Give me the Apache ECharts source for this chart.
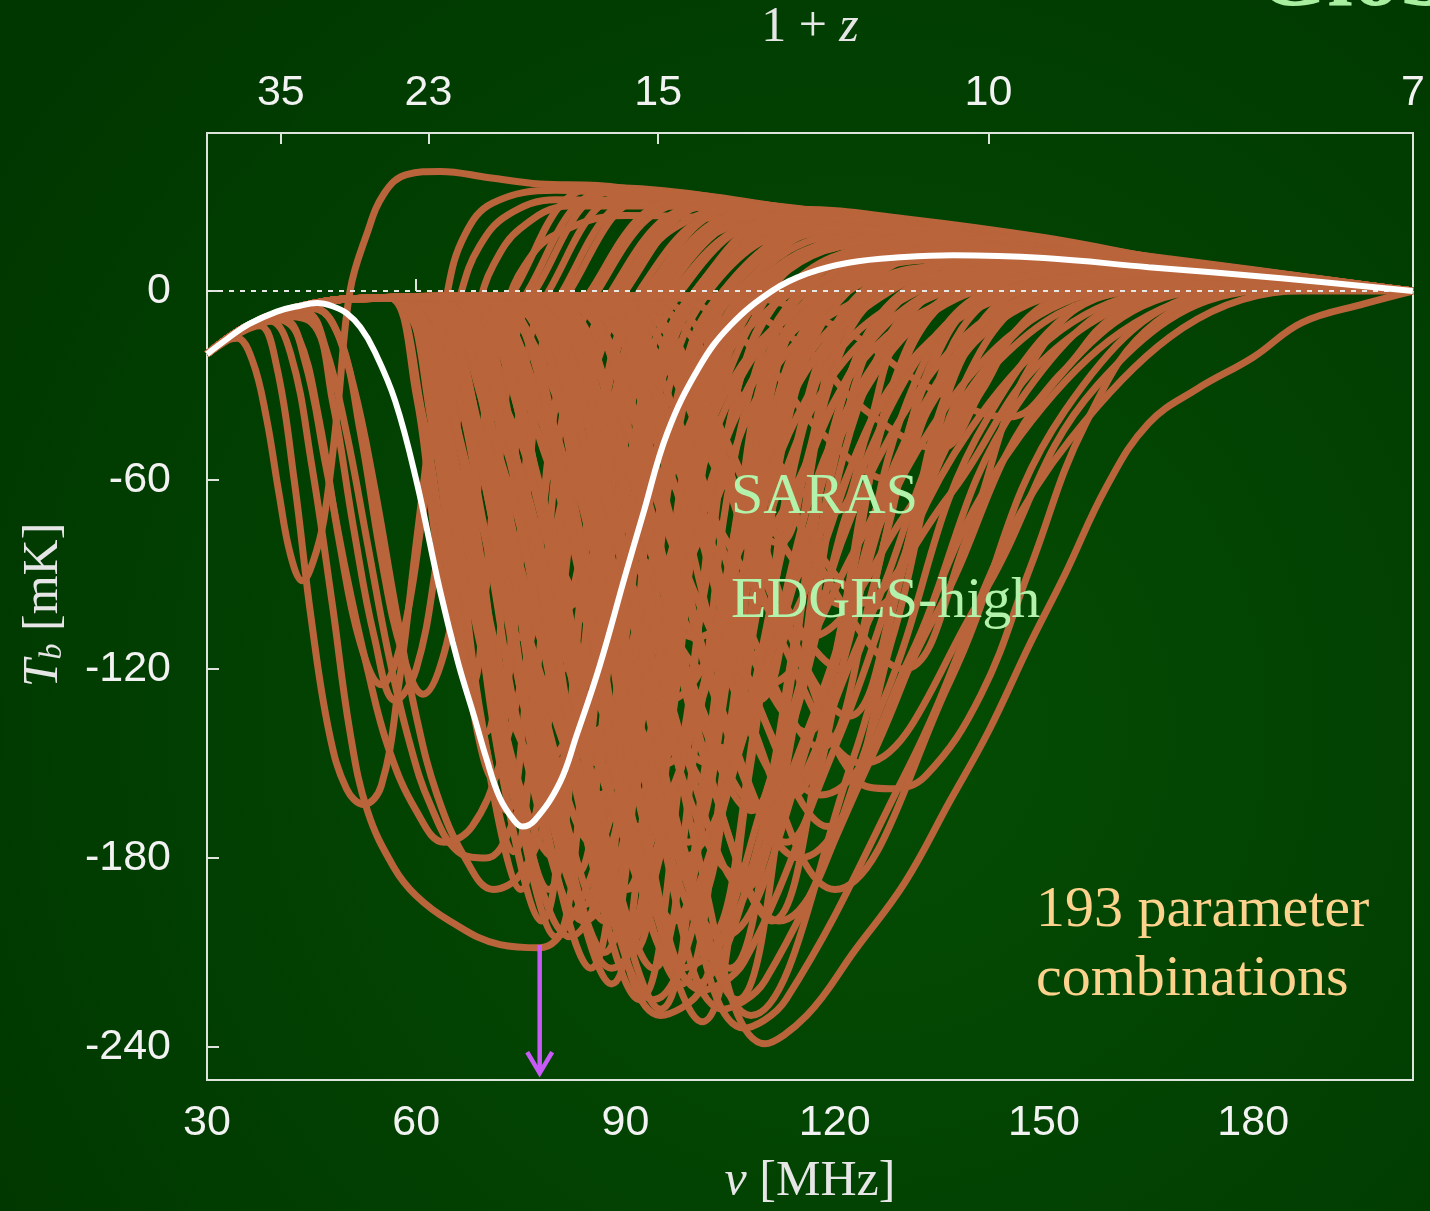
<!DOCTYPE html>
<html><head><meta charset="utf-8">
<script src="https://cdn.jsdelivr.net/npm/echarts@6/dist/echarts.min.js"></script>
<style>html,body{margin:0;padding:0;background:#003c00;}#c{width:1430px;height:1211px;}</style>
</head><body><div id="c"></div>
<script>
// ---- axis ranges and tick labels ----
const nuMin = 30, nuMax = 1420.4 / 7;
const tbMin = -250.5, tbMax = 50.2;
const nuTicks = [30, 60, 90, 120, 150, 180];
const tbTicks = [-240, -180, -120, -60, 0];
const zTicks = [35, 23, 15, 10, 7];

// ---- highlighted (white) model ----
const whiteNu = [30, 33, 36, 40, 43, 45.8, 48, 50, 52, 54, 57, 60, 63.4, 66, 68.3, 70, 72, 74, 75.2, 77, 80.6, 83, 86.3, 90, 92.5, 96, 100.6, 105, 111, 116, 122, 130, 137, 150, 165, 184, 202.9];
const whiteT  = [-20, -15, -10.5, -6.5, -4.8, -3.8, -4.8, -7, -11.5, -19, -35, -60, -95, -118, -135, -148, -161, -168, -170, -168, -156, -141, -119, -90, -71, -45, -24, -11, 0, 5.5, 9, 10.8, 11.4, 10.5, 7.6, 4.1, 0];

// ---- early-coupling models (full curves) ----
const earlyCurves = [
 [[30,-20],[32,-16.5],[34.3,-15],[36.5,-22],[38.5,-40],[40.3,-64],[42,-84],[43.7,-92],[45.2,-86],[46.8,-72],[48.7,-38],[50.5,0],[52.9,18],[55.4,31],[58.6,37],[63.4,38],[70.5,36],[77.7,34],[86,33.5],[100,29],[115,25],[130,20.5],[143.6,18.5],[165,11],[184,4.4],[202.9,0]],
 [[30,-20],[35,-13],[37.6,-11],[40,-24],[42.5,-60],[45,-105],[47.5,-140],[50,-158],[52.5,-163],[55,-157],[57.5,-125],[60,-80],[62.5,-35],[64.5,0],[67,18],[71,28],[80,32],[90,30.5],[110,25],[130,19.5],[150,14.5],[170,8],[190,2.5],[202.9,0]],
 [[30,-20],[35,-12.5],[39,-9.5],[42,-20],[45,-55],[48,-100],[50.5,-140],[53,-165],[56.8,-183],[60,-192],[64.8,-200],[72,-207.5],[77.7,-208.5],[82,-200],[86,-180],[90,-150],[95,-105],[100,-60],[105,-25],[110,-3],[115,10],[122,17],[130,18.5],[145,16.5],[165,10],[185,4],[202.9,0]],
 [[30,-20],[35,-12.5],[41,-9],[44,-22],[47,-55],[50,-90],[53,-120],[56,-145],[60,-165],[64,-175],[68,-170],[72,-150],[76,-115],[80,-75],[84,-38],[88,-10],[92,8],[97,20],[105,26],[115,26],[130,23],[150,17],[170,9],[190,3],[202.9,0]],
 [[30,-20],[35,-12],[40,-8],[44.3,-7],[47,-18],[50,-45],[53,-80],[56,-115],[59,-143],[62,-163],[66,-178],[70,-180],[74,-168],[78,-140],[82,-100],[86,-60],[90,-25],[95,2],[100,15],[110,22],[125,22],[145,17],[165,10],[185,4],[202.9,0]],
 [[30,-20],[35,-12],[40,-7.5],[45,-5.5],[48,-10],[51,-30],[54,-62],[57,-100],[60,-135],[63,-160],[67,-180],[71,-190],[75,-185],[79,-165],[83,-130],[87,-90],[91,-52],[95,-22],[100,0],[106,12],[115,18],[130,19],[150,15],[170,8],[190,3],[202.9,0]],
 [[30,-20],[35,-12.5],[40,-9],[43,-14],[46,-40],[49,-80],[52,-112],[55,-125],[58,-110],[61,-70],[64,-25],[66.5,0],[69,14],[73,24],[80,29],[95,28],[115,24],[135,19],[160,11],[185,4],[202.9,0]],
 [[30,-20],[35,-12],[40,-8],[45,-10],[48,-35],[51,-75],[54,-110],[57,-130],[60,-120],[63,-85],[66,-40],[69,-5],[71,8],[75,20],[82,27],[95,27],[115,23],[135,18],[160,10.5],[185,4],[202.9,0]],
 [[30,-20],[35,-12],[40,-7.5],[45,-5],[49,-15],[52,-45],[55,-85],[58,-115],[61,-128],[64,-115],[67,-80],[70,-38],[73,-5],[75.5,8],[80,18],[90,24],[110,22],[135,17],[160,10],[185,3.8],[202.9,0]]
];

// ---- shared dark-ages plateau for the later models ----
const plateau = [[30,-20],[35,-12],[40,-7],[45,-4],[50,-2.5]];

// ---- later-coupling models, narrow troughs (from onset onward) ----
const midCurves = [
 [[56,-2],[60,-33],[63,-82],[66,-110],[68.4,-72],[70.8,-22],[74,0],[86,33],[127,21],[168,10]],
 [[57,-2],[61.8,-30],[65.4,-75],[69,-100],[71.4,-65],[73.8,-20],[77,0],[89,32],[129,21],[169,10]],
 [[57,-2],[62.2,-42],[66.1,-105],[70,-140],[72.7,-91],[75.4,-28],[79,0],[91,31],[130,20],[169,9]],
 [[58,-2],[63.6,-39],[67.8,-98],[72,-130],[75,-85],[78,-26],[82,0],[94,30],[132,19.5],[170,9]],
 [[57,-2],[63.4,-50],[68.2,-124],[73,-165],[76.6,-107],[80.2,-33],[85,0],[98,29],[134.8,19],[171.5,9]],
 [[57,-2],[64.2,-57],[69.6,-142],[75,-190],[78.9,-124],[82.8,-38],[88,0],[101,27],[136.7,17.6],[172.4,8]],
 [[58,-2],[65.6,-45],[71.3,-112],[77,-150],[80.9,-98],[84.8,-30],[90,0],[103,28],[138,18],[173,8.4]],
 [[58,-2],[66,-60],[72,-150],[78,-200],[82.2,-130],[86.4,-40],[92,0],[106,26],[140,17],[174,7.8]],
 [[59,-2],[67.4,-62],[73.7,-154],[80,-205],[84.8,-133],[89.6,-41],[96,0],[110,24],[142.6,15.6],[175,7.2]],
 [[62,-2],[69.6,-36],[75.3,-90],[81,-120],[84.6,-78],[88.2,-24],[93,0],[106,26],[140,17],[174,7.8]],
 [[60,-2],[68.8,-52],[75.4,-131],[82,-175],[86.5,-114],[91,-35],[97,0],[111,22],[143,14.3],[175.4,6.6]],
 [[60,-2],[69.2,-55],[76.1,-139],[83,-185],[87.5,-120],[92,-37],[98,0],[112,23],[143.9,15],[175.7,6.9]],
 [[61,-2],[70.6,-64],[77.8,-161],[85,-215],[90.1,-140],[95.2,-43],[102,0],[117,20],[147.1,13],[177.2,6]],
 [[63,-2],[72.2,-45],[79.1,-112],[86,-150],[90.2,-98],[94.4,-30],[100,0],[114,25],[145.2,16.3],[176.3,7.5]],
 [[62,-2],[72,-60],[79.5,-150],[87,-200],[92.1,-130],[97.2,-40],[104,0],[118,19],[147.8,12.4],[177.5,5.7]],
 [[62,-2],[72.4,-66],[80.2,-165],[88,-220],[93.7,-143],[99.4,-44],[107,0],[122,18],[150.4,11.7],[178.7,5.4]],
 [[66,-2],[75.2,-42],[82.1,-105],[89,-140],[93.5,-91],[98,-28],[104,0],[119,20],[148.4,13],[177.8,6]],
 [[64,-2],[74.4,-57],[82.2,-142],[90,-190],[95.4,-124],[100.8,-38],[108,0],[123,16],[151,10.4],[179,4.8]],
 [[64,-2],[74.8,-63],[82.9,-158],[91,-210],[96.7,-136],[102.4,-42],[110,0],[125,15],[152.3,9.8],[179.6,4.5]],
 [[65,-2],[75.8,-68],[83.9,-169],[92,-225],[98.3,-146],[104.6,-45],[113,0],[128,14],[154.3,9.1],[180.5,4.2]],
 [[70,-1.5],[79.2,-39],[86.1,-98],[93,-130],[97.2,-84],[101.4,-26],[107,0],[120,21],[149,13.7],[178,6.3]],
 [[67,-2],[78.2,-68],[86.6,-171],[95,-228],[101.6,-148],[108.2,-46],[117,0],[132,12],[156.9,7.8],[181.7,3.6]],
 [[72,-1.5],[81.6,-33],[88.8,-82],[96,-110],[99.9,-72],[103.8,-22],[109,0],[123,17],[151,11],[179,5.1]],
 [[70,-1.5],[80.8,-60],[88.9,-150],[97,-200],[103.3,-130],[109.6,-40],[118,0],[133,10],[157.5,6.5],[182,3]],
 [[72,-1.5],[82.8,-52],[90.9,-131],[99,-175],[105.3,-114],[111.6,-35],[120,0],[134,13],[158.2,8.5],[182.3,3.9]],
 [[70,-1.5],[82.4,-70],[91.7,-174],[101,-232],[107.9,-151],[114.8,-46],[124,0],[139,8],[161.4,5.2],[183.8,2.4]],
 [[75,-1.5],[85.4,-36],[93.2,-90],[101,-120],[105.5,-78],[110,-24],[116,0],[131,12],[156.2,7.8],[181.4,3.6]],
 [[74,-1.5],[85.6,-48],[94.3,-120],[103,-160],[108.7,-104],[114.4,-32],[122,0],[136,15],[159.5,9.8],[182.9,4.5]],
 [[75,-1.5],[87,-64],[96,-161],[105,-215],[112.5,-140],[120,-43],[130,0],[144,6],[164.7,3.9],[185.3,1.8]],
 [[77,-1.5],[89,-57],[98,-142],[107,-190],[115.1,-124],[123.2,-38],[134,0],[147,5],[166.6,3.3],[186.2,1.5]],
 [[80,-1.5],[91.6,-39],[100.3,-98],[109,-130],[114.4,-84],[119.8,-26],[127,0],[142,9],[163.4,5.9],[184.7,2.7]],
 [[80,-1.5],[93.2,-52],[103.1,-131],[113,-175],[121.7,-114],[130.4,-35],[142,0],[156,4],[172.5,2.6],[188.9,1.2]],
 [[82,-1.5],[95.6,-42],[105.8,-105],[116,-140],[122.3,-91],[128.6,-28],[137,0],[151,6],[169.2,3.9],[187.4,1.8]],
 [[84,-1.5],[98,-51],[108.5,-128],[119,-170],[128.3,-110],[137.6,-34],[150,0],[162,3],[176.4,2],[190.7,0.9]],
 [[86,-1.5],[100,-36],[110.5,-90],[121,-120],[127.3,-78],[133.6,-24],[142,0],[156,4],[172.5,2.6],[188.9,1.2]],
 [[90,-1.5],[104.4,-30],[115.2,-75],[126,-100],[132.3,-65],[138.6,-20],[147,0],[161,3],[175.7,2],[190.4,0.9]],
 [[88,-1.5],[104,-47],[115,-115],[123,-155],[128,-158],[133,-154],[141,-128],[148,-88],[156,-42],[166,-10],[180,0]]
];

// ---- more narrow-trough models filling the dense core ----
const extraCurves = [
 [[56,-2],[60.8,-38],[64.4,-88],[68,-125],[70.4,-81],[72.8,-25],[76,0],[88,32],[128.3,20.8],[168.5,9.6]],
 [[57,-2],[62.6,-46],[66.8,-116],[71,-155],[74,-101],[77,-31],[81,0],[93,30],[131.5,19.5],[170,9]],
 [[58,-2],[64.4,-53],[69.2,-134],[74,-178],[77.6,-116],[81.2,-36],[86,0],[99,28],[135.4,18.2],[171.8,8.4]],
 [[58,-2],[65.2,-51],[70.6,-128],[76,-170],[79.9,-110],[83.8,-34],[89,0],[102,27],[137.4,17.6],[172.7,8.1]],
 [[59,-2],[67,-57],[73,-142],[79,-190],[83.5,-124],[88,-38],[94,0],[108,25],[141.3,16.3],[174.5,7.5]],
 [[60,-2],[68.4,-48],[74.7,-120],[81,-160],[85.2,-104],[89.4,-32],[95,0],[108,24],[141.3,15.6],[174.5,7.2]],
 [[61,-2],[70.2,-58],[77.1,-146],[84,-195],[88.8,-127],[93.6,-39],[100,0],[114,22],[145.2,14.3],[176.3,6.6]],
 [[62,-2],[71.2,-52],[78.1,-131],[85,-175],[89.8,-114],[94.6,-35],[101,0],[115,21],[145.8,13.7],[176.6,6.3]],
 [[63,-2],[72.6,-63],[79.8,-158],[87,-210],[92.4,-136],[97.8,-42],[105,0],[120,19],[149,12.4],[178,5.7]],
 [[64,-2],[73.6,-50],[80.8,-124],[88,-165],[92.8,-107],[97.6,-33],[104,0],[118,20],[147.8,13],[177.5,6]],
 [[65,-2],[75,-62],[82.5,-154],[90,-205],[95.7,-133],[101.4,-41],[109,0],[124,16],[151.7,10.4],[179.3,4.8]],
 [[66,-2],[76.4,-54],[84.2,-135],[92,-180],[97.4,-117],[102.8,-36],[110,0],[125,15],[152.3,9.8],[179.6,4.5]],
 [[67,-2],[77.8,-64],[85.9,-161],[94,-215],[100.3,-140],[106.6,-43],[115,0],[130,13],[155.6,8.5],[181.1,3.9]],
 [[68,-2],[79.2,-45],[87.6,-112],[96,-150],[101.1,-98],[106.2,-30],[113,0],[127,14],[153.6,9.1],[180.2,4.2]],
 [[70,-1.5],[81.2,-66],[89.6,-165],[98,-220],[104.6,-143],[111.2,-44],[120,0],[135,11],[158.8,7.2],[182.6,3.3]],
 [[72,-1.5],[83.2,-58],[91.6,-146],[100,-195],[106.3,-127],[112.6,-39],[121,0],[136,10],[159.5,6.5],[182.9,3]],
 [[73,-1.5],[84.6,-62],[93.3,-154],[102,-205],[108.9,-133],[115.8,-41],[125,0],[140,8],[162,5.2],[184,2.4]],
 [[76,-1.5],[87.2,-44],[95.6,-109],[104,-145],[109.1,-94],[114.2,-29],[121,0],[136,11],[159.5,7.2],[182.9,3.3]],
 [[76,-1.5],[88,-68],[97,-169],[106,-225],[113.5,-146],[121,-45],[131,0],[145,6],[165.3,3.9],[185.6,1.8]],
 [[78,-1.5],[90,-50],[99,-124],[108,-165],[114.6,-107],[121.2,-33],[130,0],[144,7],[164.7,4.6],[185.3,2.1]],
 [[80,-1.5],[92.4,-60],[101.7,-150],[111,-200],[119.1,-130],[127.2,-40],[138,0],[152,5],[169.9,3.3],[187.7,1.5]],
 [[82,-1.5],[94.8,-48],[104.4,-120],[114,-160],[121.2,-104],[128.4,-32],[138,0],[152,5],[169.9,3.3],[187.7,1.5]],
 [[85,-1.5],[98.2,-44],[108.1,-109],[118,-145],[125.5,-94],[133,-29],[143,0],[157,3],[173.1,2],[189.2,0.9]],
 [[88,-1.5],[101.6,-40],[111.8,-101],[122,-135],[129.5,-88],[137,-27],[147,0],[161,2.5],[175.7,1.6],[190.4,0.8]],
 [[92,-1.5],[107.2,-36],[118.6,-90],[130,-120],[139,-78],[148,-24],[160,0],[172,1.5],[182.9,1],[193.7,0.5]],
 [[60,-2],[66,-33],[70.5,-82],[75,-110],[78,-72],[81,-22],[85,0],[98,29],[134.8,18.9],[171.5,8.7]],
 [[64,-2],[71.2,-30],[76.6,-75],[82,-100],[85.3,-65],[88.6,-20],[93,0],[106,27],[140,17.6],[173.9,8.1]],
 [[68,-2],[76,-28],[82,-71],[88,-95],[91.6,-62],[95.2,-19],[100,0],[113,24],[144.5,15.6],[176,7.2]],
 [[74,-1.5],[82.4,-27],[88.7,-68],[95,-90],[98.3,-58],[101.6,-18],[106,0],[120,20],[149,13],[178,6]],
 [[80,-1.5],[90,-25],[97.5,-64],[105,-85],[108.9,-55],[112.8,-17],[118,0],[132,14],[156.9,9.1],[181.7,4.2]],
 [[85,-1.5],[95.8,-24],[103.9,-60],[112,-80],[116.2,-52],[120.4,-16],[126,0],[140,10],[162,6.5],[184,3]],
 [[90,-1.5],[102,-21],[111,-52],[120,-70],[124.5,-46],[129,-14],[135,0],[150,7],[168.6,4.6],[187.1,2.1]],
 [[95,-1.5],[108.2,-18],[118.1,-45],[128,-60],[133.1,-39],[138.2,-12],[145,0],[160,5],[175,3.3],[190.1,1.5]],
 [[100,-1.5],[114,-15],[124.5,-38],[135,-50],[141,-32],[147,-10],[155,0],[170,3],[181.6,2],[193.1,0.9]],
 [[105,-1.5],[121,-12],[133,-30],[145,-40],[152.5,-26],[160,-8],[170,0],[182,1.5],[189.4,1],[196.7,0.5]]
];

// ---- broad-trough models (slow recovery, right-hand body) ----
const broadCurves = [
 [[56,-2],[65,-54],[72.2,-135],[80,-180],[90.2,-117],[100.4,-36],[114,0],[134.4,18],[158.4,11.7],[182.4,5.4]],
 [[57,-2],[67.8,-60],[75.9,-150],[84,-200],[94.8,-130],[105.6,-40],[120,0],[141.6,15],[163.1,9.8],[184.6,4.5]],
 [[58,-2],[69.2,-48],[77.6,-120],[86,-160],[96.8,-104],[107.6,-32],[122,0],[143.6,17],[164.4,11],[185.2,5.1]],
 [[60,-2],[71.2,-64],[79.6,-161],[88,-215],[99.4,-140],[110.8,-43],[126,0],[148.8,12],[167.8,7.8],[186.7,3.6]],
 [[61,-2],[72.6,-57],[81.3,-142],[90,-190],[101.4,-124],[112.8,-38],[128,0],[150.8,13],[169.1,8.5],[187.3,3.9]],
 [[62,-2],[74,-51],[83,-128],[92,-170],[104,-110],[116,-34],[132,0],[156,10],[172.5,6.5],[188.9,3]],
 [[64,-2],[76,-68],[85,-169],[94,-225],[106,-146],[118,-45],[134,0],[158,9],[173.8,5.9],[189.5,2.7]],
 [[65,-2],[77.4,-60],[86.7,-150],[96,-200],[108.6,-130],[121.2,-40],[138,0],[163.2,9],[177.1,5.9],[191.1,2.7]],
 [[66,-2],[78.8,-54],[88.4,-135],[98,-180],[110.6,-117],[123.2,-36],[140,0],[165.2,7],[178.4,4.6],[191.7,2.1]],
 [[68,-2],[80.8,-66],[90.4,-165],[100,-220],[113.2,-143],[126.4,-44],[144,0],[170.4,6],[181.8,3.9],[193.2,1.8]],
 [[69,-2],[82.2,-45],[92.1,-112],[102,-150],[115.2,-98],[128.4,-30],[146,0],[172.4,7],[183.1,4.5],[193.8,2.1]],
 [[71,-1.5],[84.2,-62],[94.1,-154],[104,-205],[117.8,-133],[131.6,-41],[150,0],[177.6,5],[186.5,3.3],[195.4,1.5]],
 [[72,-1.5],[85.6,-56],[95.8,-139],[106,-185],[119.8,-120],[133.6,-37],[152,0],[179.6,4],[187.8,2.6],[196,1.2]],
 [[74,-1.5],[87.6,-69],[97.8,-172],[108,-230],[122.4,-150],[136.8,-46],[156,0],[184.8,3],[194,1.5]],
 [[75,-1.5],[89,-50],[99.5,-124],[110,-165],[124.4,-107],[138.8,-33],[158,0],[186.8,3],[195,1.5]],
 [[77,-1.5],[91,-60],[101.5,-150],[112,-200],[127,-130],[142,-40],[162,0],[190,2]],
 [[79,-1.5],[93.4,-54],[104.2,-135],[115,-180],[130.6,-117],[146.2,-36],[167,0],[190,2]],
 [[81,-1.5],[95.8,-48],[106.9,-120],[118,-160],[134.2,-104],[150.4,-32],[172,0],[192,1.5]],
 [[83,-1.5],[97.8,-57],[108.9,-142],[120,-190],[136.5,-124],[153,-38],[175,0],[193,1.5]],
 [[86,-1.5],[101.2,-45],[112.6,-112],[124,-150],[140.8,-98],[157.6,-30],[180,0],[195,1]],
 [[65,-2],[77.4,-39],[86.7,-98],[96,-130],[108,-84],[120,-26],[136,0],[160,9],[175,5.9],[190.1,2.7]],
 [[68,-2],[80.8,-33],[90.4,-82],[100,-110],[112,-72],[124,-22],[140,0],[164,8],[177.7,5.2],[191.3,2.4]],
 [[72,-1.5],[85.2,-36],[95.1,-90],[105,-120],[117.6,-78],[130.2,-24],[147,0],[172.2,6],[183,3.9],[193.8,1.8]],
 [[75,-1.5],[89,-38],[99.5,-94],[110,-125],[123.2,-81],[136.4,-25],[154,0],[180.4,4],[192,2]],
 [[80,-1.5],[94.4,-33],[105.2,-82],[116,-110],[129.8,-72],[143.6,-22],[162,0],[185,3],[195,1.2]],
 [[85,-1.5],[99.8,-30],[110.9,-75],[122,-100],[136.4,-65],[150.8,-20],[170,0],[188,2],[197,0.8]],
 [[58,-2],[68.8,-42],[76.9,-105],[85,-140],[95.2,-91],[105.4,-28],[119,0],[139.4,15],[161.7,9.8],[183.9,4.5]],
 [[61,-2],[72.6,-36],[81.3,-90],[90,-120],[100.8,-78],[111.6,-24],[126,0],[147.6,13],[167,8.5],[186.4,3.9]],
 [[56,-2],[64,-45],[70.5,-112],[78,-150],[88.2,-98],[98.4,-30],[112,0],[132.4,16],[157.1,10.4],[181.8,4.8]],
 [[56,-2],[66.5,-62],[74,-154],[82,-205],[92.8,-133],[103.6,-41],[118,0],[139.6,14],[161.8,9.1],[184,4.2]]
];

// ---- deepest / latest models (right-hand fan) ----
const lateCurves = [
 [[66,-2],[77.6,-69],[86.3,-172],[95,-230],[101,-221],[111.5,-150],[128,-46],[150,0],[165,3],[178.3,2],[191.6,0.9]],
 [[70,-1.5],[81.2,-64],[89.6,-161],[98,-215],[104,-206],[116,-140],[134,-43],[158,0],[170,2],[181.6,1.3],[193.1,0.6]],
 [[72,-1.5],[83.6,-67],[92.3,-166],[101,-222],[107,-213],[120.2,-144],[139.4,-44],[165,0],[178,2],[186.8,1.3],[195.5,0.6]],
 [[74,-1.5],[86,-68],[95,-171],[104,-228],[110,-219],[125.3,-148],[146.6,-46],[175,0],[186,1.5],[192,1],[198,0.5]],
 [[76,-1.5],[88.4,-70],[97.7,-176],[107,-234],[113,-225],[130.4,-152],[153.8,-47],[185,0],[194,0.5]],
 [[78,-1.5],[90.8,-72],[100.4,-179],[110,-239],[116,-230],[123,-209],[130,-188],[136.5,-162],[142,-140],[148,-112],[153,-90],[159,-62],[165,-42],[172,-31],[180,-21],[187,-10],[196,-4]]
];

// ---- arrow annotation (data coords) ----
const arrowNu = 77.7, arrowFrom = -207.6, arrowTo = -248.3;

const orange = '#b9643a';
const frameColor = '#dce4dc';
const labelColor = '#f2f2f2';

const chart = echarts.init(document.getElementById('c'), null, {renderer: 'canvas', width: 1430, height: 1211});

function curveSeries(pts) {
  return {type: 'line', data: pts, smooth: 0.4, showSymbol: false, symbol: 'none', silent: true,
          animation: false, z: 2, lineStyle: {color: orange, width: 7}};
}
const series = [];
earlyCurves.forEach(c => series.push(curveSeries(c)));
midCurves.concat(extraCurves, broadCurves, lateCurves).forEach(c => series.push(curveSeries(plateau.concat(c, [[nuMax, 0]]))));
series.push({type: 'line', data: [[nuMin, 0], [nuMax, 0]], showSymbol: false, symbol: 'none', silent: true,
  animation: false, z: 3, lineStyle: {color: '#e8e8e8', width: 2, type: [5, 6]}});
series.push({type: 'line', data: whiteNu.map((v, i) => [v, whiteT[i]]), smooth: 0.4, showSymbol: false,
  symbol: 'none', silent: true, animation: false, z: 4, lineStyle: {color: '#ffffff', width: 6}});

const tickStyle = {inside: true, length: 12, lineStyle: {color: frameColor, width: 2}};
const serif = '"Liberation Serif", "Times New Roman", serif';
const titleColor = '#e6e6e6';
const italic = {fill: titleColor, fontStyle: 'italic', fontSize: 50, fontFamily: 'Liberation Serif'};

const baseGraphic = [
  {type: 'text', z: 100, x: 810, y: 28, style: {text: '1 + {i|z}', fill: titleColor, font: '50px ' + serif,
    align: 'center', verticalAlign: 'middle', rich: {i: italic}}},
  {type: 'text', z: 100, x: 810, y: 1182, style: {text: '{i|ν} [MHz]', fill: titleColor, font: '50px ' + serif,
    align: 'center', verticalAlign: 'middle', rich: {i: italic}}},
  {type: 'text', z: 100, x: 44, y: 605, rotation: Math.PI / 2, style: {text: '{i|T}{s|b} [mK]', fill: titleColor, font: '50px ' + serif,
    align: 'center', verticalAlign: 'middle', rich: {
      i: italic,
      s: {fill: titleColor, fontStyle: 'italic', fontSize: 32, fontFamily: 'Liberation Serif', verticalAlign: 'bottom'}}}},
  {type: 'text', z: 100, x: 731, y: 498, style: {text: 'SARAS', fill: '#b2f2aa', font: '58px ' + serif, align: 'left', verticalAlign: 'middle'}},
  {type: 'text', z: 100, x: 731, y: 602, style: {text: 'EDGES-high', fill: '#b2f2aa', font: '58px ' + serif, align: 'left', verticalAlign: 'middle'}},
  {type: 'text', z: 100, x: 1036, y: 911, style: {text: '193 parameter', fill: '#fcd28c', font: '58px ' + serif, align: 'left', verticalAlign: 'middle'}},
  {type: 'text', z: 100, x: 1036, y: 980, style: {text: 'combinations', fill: '#fcd28c', font: '58px ' + serif, align: 'left', verticalAlign: 'middle'}},
  {type: 'text', z: 100, x: 1256, y: -19, style: {text: 'Global', fill: '#a8f0a0', font: 'bold 92px ' + serif, align: 'left', verticalAlign: 'middle'}}
];

const option = {
  animation: false,
  backgroundColor: {type: 'radial', x: 0.6, y: 0.6, r: 0.85,
    colorStops: [{offset: 0, color: '#044d04'}, {offset: 1, color: '#003700'}]},
  grid: {left: 207, right: 17, top: 133, bottom: 131, show: true, borderColor: frameColor, borderWidth: 2, backgroundColor: 'transparent'},
  xAxis: [
    {type: 'value', position: 'bottom', min: nuMin, max: nuMax,
     axisLine: {show: false}, splitLine: {show: false},
     axisTick: Object.assign({customValues: nuTicks}, tickStyle),
     axisLabel: {customValues: nuTicks, color: labelColor, fontSize: 43, fontFamily: 'Liberation Sans', margin: 22}},
    {type: 'value', position: 'top', min: nuMin, max: nuMax,
     axisLine: {show: false}, splitLine: {show: false},
     axisTick: Object.assign({customValues: zTicks.map(z => 1420.4 / z)}, tickStyle, {length: 11}),
     axisLabel: {customValues: zTicks.map(z => 1420.4 / z), color: labelColor, fontSize: 43, fontFamily: 'Liberation Sans', margin: 18,
       formatter: v => String(Math.round(1420.4 / v))}}
  ],
  yAxis: {type: 'value', min: tbMin, max: tbMax,
    axisLine: {show: false}, splitLine: {show: false},
    axisTick: Object.assign({customValues: tbTicks}, tickStyle),
    axisLabel: {customValues: tbTicks, color: labelColor, fontSize: 43, fontFamily: 'Liberation Sans', margin: 36}},
  graphic: baseGraphic,
  series: series
};
chart.setOption(option);

const pTop = chart.convertToPixel({xAxisIndex: 0, yAxisIndex: 0}, [arrowNu, arrowFrom]);
const pTip = chart.convertToPixel({xAxisIndex: 0, yAxisIndex: 0}, [arrowNu, arrowTo]);
const arrowColor = '#c85af8';
chart.setOption({graphic: baseGraphic.concat([
  {type: 'line', z: 100, shape: {x1: pTop[0], y1: pTop[1], x2: pTip[0], y2: pTip[1] - 2}, style: {stroke: arrowColor, lineWidth: 4.5}},
  {type: 'polyline', z: 100, shape: {points: [[pTip[0] - 12.5, pTip[1] - 21], [pTip[0], pTip[1]], [pTip[0] + 12.5, pTip[1] - 21]]},
   style: {stroke: arrowColor, lineWidth: 4.5, fill: null, lineJoin: 'miter'}}
])});
</script>
</body></html>
